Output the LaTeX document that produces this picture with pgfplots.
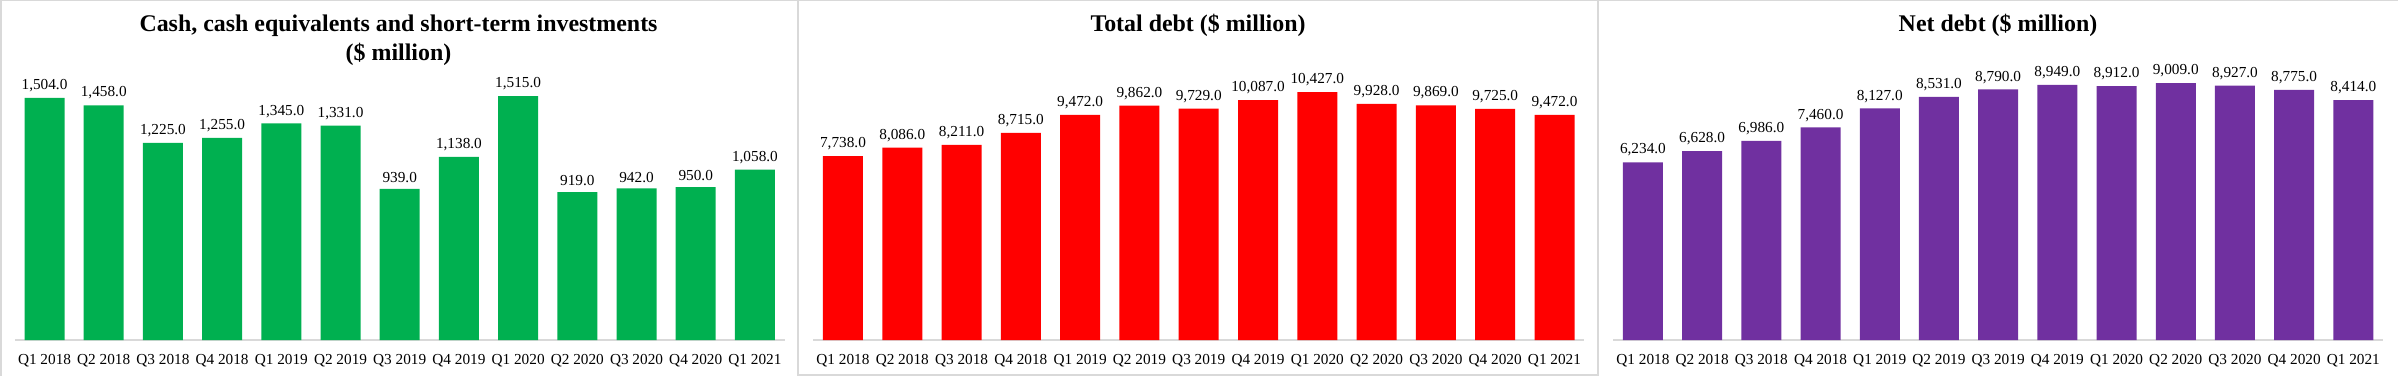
\documentclass[border=0pt]{standalone}
\usepackage{pgfplots}
\pgfplotsset{compat=1.18}
\usepackage{fontspec}
\setmainfont{Liberation Serif}
\definecolor{cgreen}{HTML}{00B050}
\definecolor{cred}{HTML}{FF0000}
\definecolor{cpurple}{HTML}{7030A0}
\definecolor{bordergray}{HTML}{D9D9D9}
\pgfplotsset{
  panel/.style={
    scale only axis,
    anchor=south west,
    ybar, bar width=30bp, bar shift=0pt,
    xmin=-0.5, xmax=12.5, ymin=0,
    axis x line*=bottom, axis y line=none,
    x axis line style={draw=bordergray, line width=0.9bp, -},
    xtick={0,...,12},
    xticklabels={Q1 2018,Q2 2018,Q3 2018,Q4 2018,Q1 2019,Q2 2019,Q3 2019,Q4 2019,Q1 2020,Q2 2020,Q3 2020,Q4 2020,Q1 2021},
    major tick length=0pt,
    xticklabel style={font=\fontsize{11.5}{13}\selectfont, yshift=-7bp, inner xsep=0pt},
    nodes near coords,
    every node near coord/.append style={font=\fontsize{11.5}{13}\selectfont, text=black, yshift=1bp,
      /pgf/number format/.cd, fixed, fixed zerofill, precision=1, 1000 sep={,}, assume math mode=true},
    /pgf/number format/assume math mode=true,
    clip=false,
  }
}
\begin{document}
\begin{tikzpicture}
\path[use as bounding box] (0,0) rectangle (1798.5bp,282bp);
% panel borders
\draw[bordergray, line width=1bp] (0,281.5bp) -- (1798.5bp,281.5bp);
\draw[bordergray, line width=1bp] (0.75bp,282bp) -- (0.75bp,0);
\draw[bordergray, line width=1bp] (598.5bp,282bp) -- (598.5bp,0.75bp) -- (1198.5bp,0.75bp) -- (1198.5bp,282bp);

\begin{axis}[panel, at={(11.2bp,27bp)}, width=577.2bp, height=193.2bp, ymax=1600]
\addplot[fill=cgreen, draw=none] coordinates {
(0,1504) (1,1458) (2,1225) (3,1255) (4,1345) (5,1331) (6,939) (7,1138) (8,1515) (9,919) (10,942) (11,950) (12,1058)};
\end{axis}

\begin{axis}[panel, at={(610bp,27bp)}, width=578.1bp, height=214bp, ymax=12000]
\addplot[fill=cred, draw=none] coordinates {
(0,7738) (1,8086) (2,8211) (3,8715) (4,9472) (5,9862) (6,9729) (7,10087) (8,10427) (9,9928) (10,9869) (11,9725) (12,9472)};
\end{axis}

\begin{axis}[panel, at={(1210bp,27bp)}, width=577.2bp, height=213.75bp, ymax=10000]
\addplot[fill=cpurple, draw=none] coordinates {
(0,6234) (1,6628) (2,6986) (3,7460) (4,8127) (5,8531) (6,8790) (7,8949) (8,8912) (9,9009) (10,8927) (11,8775) (12,8414)};
\end{axis}

\node[font=\bfseries\fontsize{18}{21.5}\selectfont, align=center] at (298.9bp,252bp) {Cash, cash equivalents and short-term investments\\(\$ million)};
\node[font=\bfseries\fontsize{18}{21.5}\selectfont] at (898.5bp,263bp) {Total debt (\$ million)};
\node[font=\bfseries\fontsize{18}{21.5}\selectfont] at (1498.5bp,263bp) {Net debt (\$ million)};
\end{tikzpicture}
\end{document}
